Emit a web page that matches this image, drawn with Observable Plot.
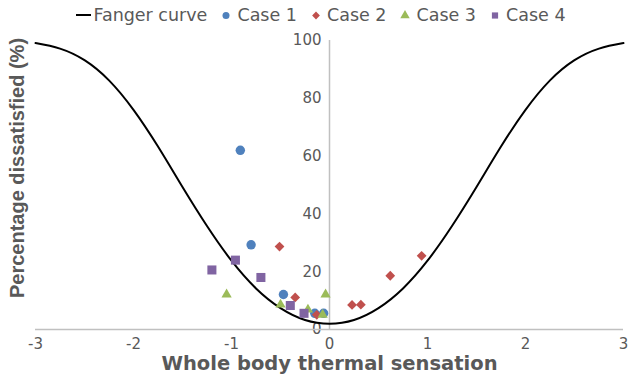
<!DOCTYPE html>
<html>
<head>
<meta charset="utf-8">
<script src="https://cdn.jsdelivr.net/npm/d3@7"></script>
<script src="https://cdn.jsdelivr.net/npm/@observablehq/plot@0.6"></script>
<style>
  body { margin: 0; background: #fff; width: 629px; height: 380px; overflow: hidden; font-family: "DejaVu Sans", sans-serif; }
  #legend { height: 30px; display: flex; align-items: center; justify-content: center; font-size: 17.5px; color: #595959; padding-left: 26px; box-sizing: border-box; white-space: nowrap; }
  .item { display: flex; align-items: center; margin-right: 14px; }
  .item svg { display: block; margin-right: 6px; }
  .item.line svg { margin-right: 2px; }
</style>
</head>
<body>
<div id="legend"></div>
<div id="chart"></div>
<script>
// Fanger PMV–PPD reference curve, sampled every 0.25 of thermal sensation
const fangerSensation = [-3, -2.75, -2.5, -2.25, -2, -1.75, -1.5, -1.25, -1, -0.75, -0.5, -0.25, 0,
                         0.25, 0.5, 0.75, 1, 1.25, 1.5, 1.75, 2, 2.25, 2.5, 2.75, 3];
const fangerPPD = [99.1, 97.2, 93.2, 86.2, 76.0, 63.3, 49.3, 35.8, 23.8, 14.2, 7.4, 3.3, 2.0,
                   3.3, 7.4, 14.2, 23.8, 35.8, 49.3, 63.3, 76.0, 86.2, 93.2, 97.2, 99.1];

// Measured cases: whole body thermal sensation vs percentage dissatisfied
const case1Sensation = [-0.91, -0.80, -0.47, -0.15, -0.06];
const case1PPD       = [62.0, 29.3, 12.1, 5.6, 5.6];
const case2Sensation = [-0.51, -0.35, -0.13, 0.23, 0.32, 0.62, 0.94];
const case2PPD       = [28.7, 11.1, 5.1, 8.5, 8.6, 18.6, 25.5];
const case3Sensation = [-1.05, -0.50, -0.22, -0.07, -0.04];
const case3PPD       = [12.1, 8.6, 6.9, 5.1, 12.1];
const case4Sensation = [-1.20, -0.96, -0.70, -0.40, -0.26];
const case4PPD       = [20.6, 24.0, 18.0, 8.3, 5.6];

const seriesNames   = ["Case 1", "Case 2", "Case 3", "Case 4"];
const seriesColors  = ["#4f81bd", "#c0504d", "#9bbb59", "#8064a2"];
const seriesSymbols = ["circle", "diamond2", "triangle", "square"];
const seriesRadius  = [4.7, 4.4, 3.8, 5.1];

const xTicks = [-3, -2, -1, 0, 1, 2, 3];
const xTickLabels = ["-3", "-2", "-1", "0", "1", "2", "3"];
const yTicks = [0, 20, 40, 60, 80, 100];
const yTickLabels = ["0", "20", "40", "60", "80", "100"];

const curveLabel = "Fanger curve";
const xTitle = "Whole body thermal sensation";
const yTitle = "Percentage dissatisfied (%)";

const gray = "#595959";
const axisGray = "#c0c0c0";

const fanger = fangerSensation.map((s, i) => ({s, ppd: fangerPPD[i]}));
const caseData = [
  [case1Sensation, case1PPD],
  [case2Sensation, case2PPD],
  [case3Sensation, case3PPD],
  [case4Sensation, case4PPD]
].map(([xs, ys]) => xs.map((s, i) => ({s, ppd: ys[i]})));

// Legend row above the chart
const symbolTypes = {circle: d3.symbolCircle, diamond2: d3.symbolDiamond2, triangle: d3.symbolTriangle, square: d3.symbolSquare};
const legend = d3.select("#legend");
const lineItem = legend.append("div").attr("class", "item line");
const ls = lineItem.append("svg").attr("width", 16).attr("height", 10);
ls.append("line").attr("x1", 1).attr("x2", 16).attr("y1", 5).attr("y2", 5)
  .attr("stroke", "black").attr("stroke-width", 2);
lineItem.append("span").text(curveLabel);
seriesNames.forEach((name, i) => {
  const it = legend.append("div").attr("class", "item");
  const sv = it.append("svg").attr("width", 10).attr("height", 12);
  sv.append("path")
    .attr("transform", "translate(5,6.5)")
    .attr("d", d3.symbol(symbolTypes[seriesSymbols[i]], Math.PI * 3.5 * 3.5)())
    .attr("fill", seriesColors[i]);
  it.append("span").text(name);
});

const chart = Plot.plot({
  width: 629,
  height: 350,
  marginTop: 10,
  marginBottom: 51,
  marginLeft: 35,
  marginRight: 6,
  x: {domain: [-3, 3], axis: null},
  y: {domain: [0, 100], axis: null},
  style: {fontFamily: "DejaVu Sans, sans-serif", background: "white", overflow: "visible"},
  marks: [
    // tick labels
    Plot.text(xTicks, {x: d => d, y: 0, dy: 15, text: (d, i) => xTickLabels[i], fontSize: 15, fill: gray}),
    Plot.text(yTicks, {x: 0, y: d => d, dx: -8, textAnchor: "end", text: (d, i) => yTickLabels[i], fontSize: 15, fill: gray}),
    // axis lines crossing at the origin
    Plot.ruleY([0], {stroke: axisGray, strokeWidth: 1.5}),
    Plot.ruleX([0], {y1: 0, y2: 100, stroke: axisGray, strokeWidth: 1.5}),
    // Fanger curve
    Plot.line(fanger, {x: "s", y: "ppd", curve: "natural", stroke: "black", strokeWidth: 2}),
    // measured cases
    ...caseData.map((rows, i) => Plot.dot(rows, {
      x: "s", y: "ppd", symbol: seriesSymbols[i], fill: seriesColors[i], r: seriesRadius[i]
    })),
    // axis titles
    Plot.text([xTitle], {frameAnchor: "bottom", lineAnchor: "middle", dy: 34, fontWeight: "bold", fontSize: 19.5, fill: gray}),
    Plot.text([yTitle], {frameAnchor: "left", textAnchor: "middle", lineAnchor: "middle", rotate: -90, dx: -18, dy: -17, fontWeight: "bold", fontSize: 20, fill: gray, fontFamily: "Liberation Sans, Arial, sans-serif"})
  ]
});
document.getElementById("chart").append(chart);
</script>
</body>
</html>
